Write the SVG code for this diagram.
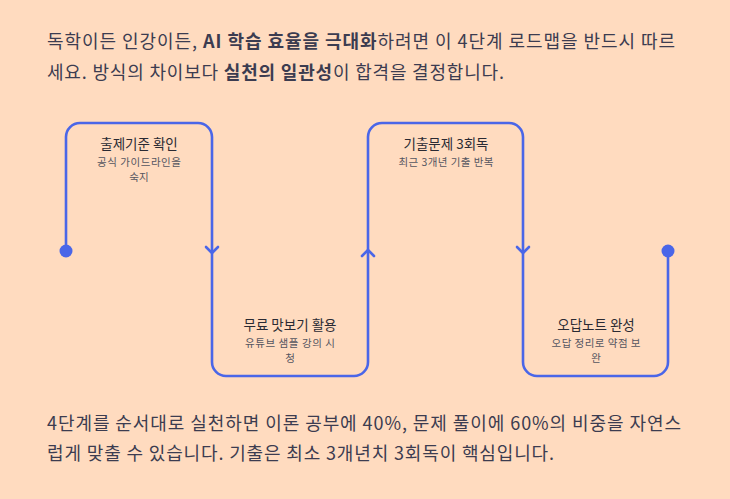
<svg xmlns="http://www.w3.org/2000/svg" width="730" height="499" viewBox="0 0 730 499">
<style>
.body{font-family:"Noto Sans CJK KR","Noto Sans",sans-serif;font-size:18px;fill:#3c3c50}
.b{font-weight:bold}
.t{font-family:"Noto Sans CJK KR","Noto Sans",sans-serif;font-size:13.5px;fill:#2a2a33;text-anchor:middle}
.s{font-family:"Noto Sans CJK KR","Noto Sans",sans-serif;font-size:10.5px;fill:#55555f;text-anchor:middle}
.ln{fill:none;stroke:#4a66e8;stroke-width:2.6;stroke-linecap:round;stroke-linejoin:round}
.dot{fill:#4a66e8}
</style>
<rect width="730" height="499" fill="#ffdbbf"/>
<text class="body" x="47" y="48" textLength="628" lengthAdjust="spacing">독학이든 인강이든, <tspan class="b">AI 학습 효율을 극대화</tspan>하려면 이 4단계 로드맵을 반드시 따르</text>
<text class="body" x="47" y="79" textLength="457" lengthAdjust="spacing">세요. 방식의 차이보다 <tspan class="b">실천의 일관성</tspan>이 합격을 결정합니다.</text>
<g id="connectors">
<path class="ln" d="M66,251 V137 A14,14 0 0 1 80,123 H198 A14,14 0 0 1 212,137 V362 A14,14 0 0 0 226,376 H354 A14,14 0 0 0 368,362 V137 A14,14 0 0 1 382,123 H509 A14,14 0 0 1 523,137 V362 A14,14 0 0 0 537,376 H654 A14,14 0 0 0 668,362 V251"/>
<path class="ln" d="M206,247 L212,253 L218,247"/>
<path class="ln" d="M362,256 L368,250 L374,256"/>
<path class="ln" d="M517,247 L523,253 L529,247"/>
<circle class="dot" cx="66" cy="251" r="6.5"/>
<circle class="dot" cx="668" cy="251" r="6.5"/>
</g>
<g id="step1">
<text class="t" x="139" y="149">출제기준 확인</text>
<text class="s" x="139" y="166" textLength="84" lengthAdjust="spacing">공식 가이드라인을</text>
<text class="s" x="139" y="181">숙지</text>
</g>
<g id="step2">
<text class="t" x="290" y="330">무료 맛보기 활용</text>
<text class="s" x="290" y="347" textLength="90" lengthAdjust="spacing">유튜브 샘플 강의 시</text>
<text class="s" x="290" y="362">청</text>
</g>
<g id="step3">
<text class="t" x="446" y="149">기출문제 3회독</text>
<text class="s" x="446" y="166" textLength="95" lengthAdjust="spacing">최근 3개년 기출 반복</text>
</g>
<g id="step4">
<text class="t" x="596" y="330">오답노트 완성</text>
<text class="s" x="596" y="347" textLength="89" lengthAdjust="spacing">오답 정리로 약점 보</text>
<text class="s" x="596" y="362">완</text>
</g>
<text class="body" x="47" y="430" textLength="634" lengthAdjust="spacing">4단계를 순서대로 실천하면 이론 공부에 40%, 문제 풀이에 60%의 비중을 자연스</text>
<text class="body" x="47" y="460" textLength="507" lengthAdjust="spacing">럽게 맞출 수 있습니다. 기출은 최소 3개년치 3회독이 핵심입니다.</text>
</svg>
